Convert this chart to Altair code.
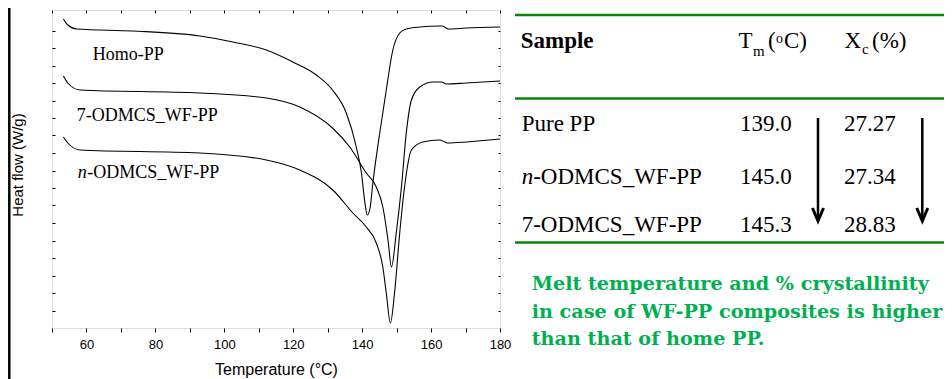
import altair as alt
import pandas as pd

# ---------------- data ----------------
series_names = ["Homo-PP", "7-ODMCS_WF-PP", "n-ODMCS_WF-PP"]

temp_homo = [53.3, 54.6, 57.2, 73.5, 92.9, 102.5, 112.2, 119.9, 126.7, 131.4, 135.4, 138.3,
             139.8, 140.7, 141.5, 142.3, 143.1, 145.1, 147.0, 148.9, 150.9, 152.8, 156.7,
             162.5, 163.4, 164.9, 170.2, 180.0]
hf_homo = [3.09, 3.03, 2.99, 2.97, 2.92, 2.86, 2.78, 2.66, 2.53, 2.38, 2.15, 1.81,
           1.55, 1.28, 1.13, 1.20, 1.45, 1.95, 2.38, 2.78, 2.95, 2.99, 3.01,
           3.02, 3.02, 2.99, 3.00, 3.01]

temp_7 = [53.3, 54.6, 58.1, 92.9, 112.2, 121.9, 131.4, 136.4, 141.2, 144.1, 146.0, 147.5,
          148.5, 149.9, 151.4, 152.8, 154.3, 156.7, 160.5, 163.0, 164.4, 170.2, 180.0]
hf_7 = [2.52, 2.45, 2.38, 2.35, 2.30, 2.21, 2.00, 1.81, 1.55, 1.41, 1.21, 0.88,
        0.61, 0.95, 1.41, 1.95, 2.28, 2.41, 2.46, 2.46, 2.44, 2.45, 2.47]

temp_n = [53.3, 54.6, 58.1, 92.9, 112.2, 121.9, 131.5, 137.3, 141.2, 144.1, 146.0, 147.0,
          148.2, 149.4, 150.9, 152.3, 154.3, 157.6, 162.5, 164.0, 164.9, 170.2, 180.0]
hf_n = [1.91, 1.85, 1.78, 1.75, 1.68, 1.58, 1.38, 1.15, 1.01, 0.85, 0.61, 0.35,
        0.05, 0.35, 0.95, 1.41, 1.78, 1.86, 1.88, 1.86, 1.85, 1.86, 1.89]

x_ticks = [50, 60, 70, 80, 90, 100, 110, 120, 130, 140, 150, 160, 170, 180]
y_ticks = [0.175, 0.35, 0.525, 0.7, 0.875, 1.05, 1.225, 1.4, 1.575, 1.75, 1.925,
           2.1, 2.275, 2.45, 2.625, 2.8, 2.975]

table_pre = ["", "n", ""]
table_rest = ["Pure PP", "-ODMCS_WF-PP", "7-ODMCS_WF-PP"]
table_tm = [139.0, 145.0, 145.3]
table_xc = [27.27, 27.34, 28.83]

note_lines = ["Melt temperature and % crystallinity",
              "in  case of WF-PP composites is higher",
              "than  that of home PP."]

# ---------------- layout / style ----------------
X0, Y0 = 52, 10          # plot origin on the page
PW, PH = 448, 318


def px(x):
    return x - X0


def py(y):
    return y - Y0


SERIF = "Liberation Serif"
SANS = "Liberation Sans"
LINE_GREEN = "#0a860a"
TEXT_GREEN = "#00b050"

curves = pd.concat([
    pd.DataFrame({"series": series_names[0], "T": temp_homo, "hf": hf_homo}),
    pd.DataFrame({"series": series_names[1], "T": temp_7, "hf": hf_7}),
    pd.DataFrame({"series": series_names[2], "T": temp_n, "hf": hf_n}),
])

xscale = alt.Scale(domain=[50, 180], nice=False, zero=False)
yscale = alt.Scale(domain=[0, 3.18], nice=False, zero=False)

lines = alt.Chart(curves).mark_line(color="black", strokeWidth=1.1, interpolate="monotone").encode(
    x=alt.X("T:Q", scale=xscale, axis=alt.Axis(
        orient="bottom", values=x_ticks,
        labelExpr="(datum.value % 20 == 0 && datum.value >= 60) ? datum.label : ''",
        labelFlush=False, labelOverlap=False,
        tickSize=4, domain=False, grid=False, labelFont=SANS, labelFontSize=13,
        labelColor="black", tickColor="black", labelPadding=6,
        title="Temperature (°C)", titleFont=SANS, titleFontSize=16,
        titleFontWeight="normal", titleColor="black", titlePadding=10)),
    y=alt.Y("hf:Q", scale=yscale, axis=alt.Axis(
        orient="left", values=y_ticks, labels=False, tickSize=3, offset=-3,
        domain=False, grid=False, tickColor="black", title=None)),
    detail="series:N",
)

frame_axes = alt.Chart(curves).mark_line(opacity=0).encode(
    x=alt.X("T:Q", scale=xscale, axis=alt.Axis(
        orient="top", values=x_ticks, labels=False, tickSize=3, offset=-3,
        domain=False, grid=False, tickColor="black", title=None)),
    y=alt.Y("hf:Q", scale=yscale, axis=alt.Axis(
        orient="right", values=y_ticks, labels=False, tickSize=2, offset=-2,
        domain=False, grid=False, tickColor="black", title=None)),
    detail="series:N",
)

# curve labels (positions in data units)
lab_df = pd.DataFrame({"T": [61.8, 57.16], "hf": [2.685, 2.073],
                       "text": [series_names[0], series_names[1]]})
curve_labels = alt.Chart(lab_df).mark_text(
    align="left", baseline="alphabetic", font=SERIF, fontSize=18, color="black"
).encode(x=alt.X("T:Q", scale=xscale, axis=None),
         y=alt.Y("hf:Q", scale=yscale, axis=None), text="text:N")

n_df = pd.DataFrame({"T": [57.5], "hf": [1.497], "pre": ["n"], "rest": ["-ODMCS_WF-PP"]})
n_label_a = alt.Chart(n_df).mark_text(
    align="left", baseline="alphabetic", font=SERIF, fontSize=18, fontStyle="italic", color="black"
).encode(x=alt.X("T:Q", scale=xscale, axis=None),
         y=alt.Y("hf:Q", scale=yscale, axis=None), text="pre:N")
n_label_b = alt.Chart(n_df).mark_text(
    align="left", baseline="alphabetic", font=SERIF, fontSize=18, color="black", dx=9.5
).encode(x=alt.X("T:Q", scale=xscale, axis=None),
         y=alt.Y("hf:Q", scale=yscale, axis=None), text="rest:N")

one = pd.DataFrame({"a": [0]})


def label(text, x, y, size=23, font=SERIF, weight="normal", style="normal",
          color="black", align="left", baseline="alphabetic", angle=0):
    return alt.Chart(pd.DataFrame({"t": [text]})).mark_text(
        align=align, baseline=baseline, font=font, fontSize=size, fontWeight=weight,
        fontStyle=style, color=color, angle=angle
    ).encode(x=alt.value(px(x)), y=alt.value(py(y)), text="t:N")


y_title = label("Heat flow (W/g)", 18, 165, size=15, font=SANS, align="center",
                baseline="middle", angle=270)

# slide left border (as far left as the page margin allows)
border = alt.Chart(one).mark_rule(color="black", strokeWidth=2.5).encode(
    x=alt.value(px(9.3)), y=alt.value(py(0)), y2=alt.value(py(379)))

RIGHT = 944  # right edge of drawable area on the page

# table rules
rules = []
for yy in [15, 98.5, 242.5]:
    rules.append(alt.Chart(one).mark_rule(color=LINE_GREEN, strokeWidth=2.5).encode(
        x=alt.value(px(515)), x2=alt.value(px(RIGHT)), y=alt.value(py(yy))))

# header
header = [
    label("Sample", 520.7, 48.3, weight="bold"),
    label("T", 738.5, 48.3),
    label("m", 753, 56, size=15),
    label("(", 768, 48.3),
    label("o", 776, 43, size=14),
    label("C)", 784, 48.3),
    label("X", 844.5, 48.3),
    label("c", 862, 54, size=15),
    label("(%)", 872, 48.3),
]

ROW_BASE = [130.7, 184.0, 231.7]
tab = pd.DataFrame({"pre": table_pre, "rest": table_rest, "tm": table_tm, "xc": table_xc})
tab["y"] = [py(b) for b in ROW_BASE]
tab["rest_x"] = [px(521.7 + (11.5 if p else 0)) for p in table_pre]

tbase = alt.Chart(tab).mark_text(align="left", baseline="alphabetic", font=SERIF,
                                 fontSize=23, color="black")
yenc = alt.Y("y:Q", scale=None, axis=None)
t_pre = alt.Chart(tab).mark_text(align="left", baseline="alphabetic", font=SERIF,
                                 fontSize=23, color="black", fontStyle="italic").encode(
    x=alt.value(px(521.7)), y=yenc, text="pre:N")
t_rest = tbase.encode(x=alt.X("rest_x:Q", scale=None, axis=None), y=yenc, text="rest:N")
t_tm = tbase.encode(x=alt.value(px(740)), y=yenc, text=alt.Text("tm:Q", format=".1f"))
t_xc = tbase.encode(x=alt.value(px(844)), y=yenc, text=alt.Text("xc:Q", format=".2f"))

# arrows
arrows = []
for ax in [818, 922.3]:
    arrows.append(alt.Chart(one).mark_rule(color="black", strokeWidth=2.5).encode(
        x=alt.value(px(ax)), y=alt.value(py(118)), y2=alt.value(py(219))))
    arrows.append(alt.Chart(one).mark_point(
        shape="M-0.85,-2L0,0L0.85,-2", size=169, filled=False, strokeWidth=3,
        color="black", opacity=1).encode(x=alt.value(px(ax)), y=alt.value(py(221))))

# green note
notes = [label(t, 531.7, b, size=19.2, font="DejaVu Serif", weight="bold", color=TEXT_GREEN)
         for t, b in zip(note_lines, [290, 318, 345])]

chart = alt.layer(
    lines, frame_axes, curve_labels, n_label_a, n_label_b, y_title, border,
    *rules, *header, t_pre, t_rest, t_tm, t_xc, *arrows, *notes
).resolve_axis(x="independent", y="independent").properties(
    width=PW, height=PH,
    padding={"left": 44, "top": 2, "right": RIGHT - 8 - 44 - PW, "bottom": 51},
    autosize=alt.AutoSizeParams(type="none"),
).configure_view(stroke="#111111", strokeWidth=1.2).configure(background="white")

chart.save("out.html", embed_options={"renderer": "svg", "actions": False})
